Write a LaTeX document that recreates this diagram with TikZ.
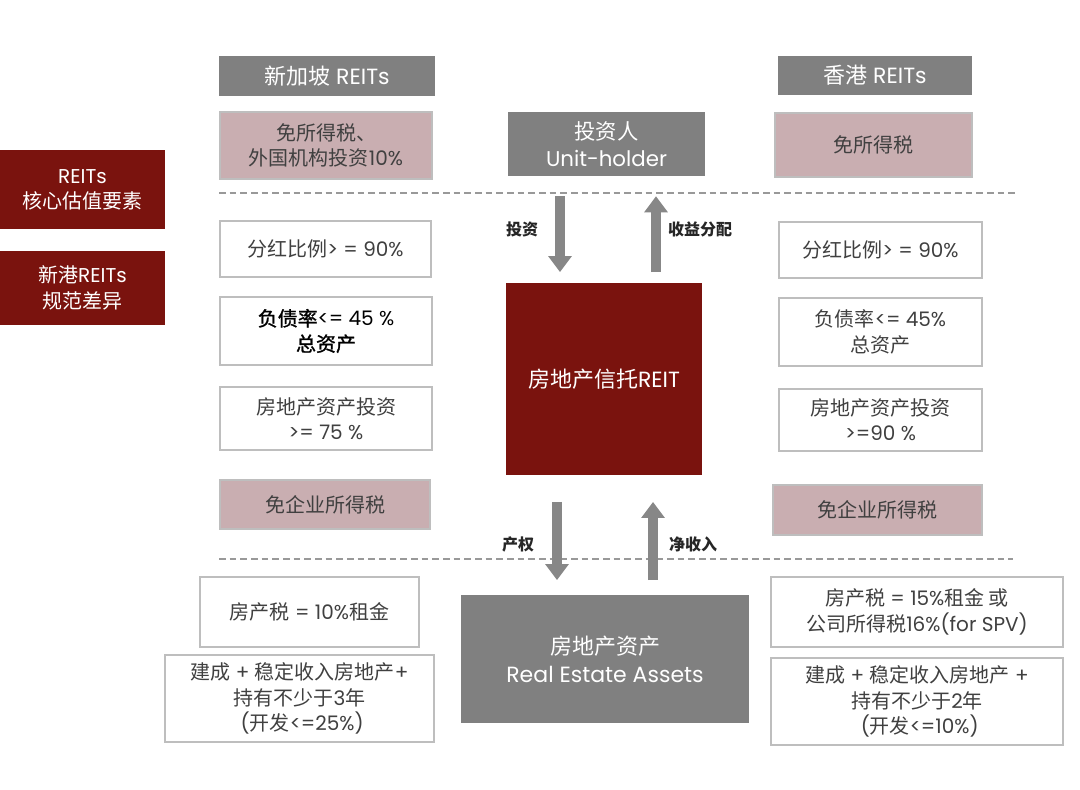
\documentclass[tikz,border=0pt]{standalone}
\usepackage{fontspec}
\setmainfont{Poppins}
\newfontfamily\cjk{Noto Sans CJK SC}
\newfontfamily\cjkmed[FakeBold=1.2]{Noto Sans CJK SC}
\usetikzlibrary{arrows.meta}
\definecolor{boxgray}{RGB}{128,128,128}
\definecolor{arrgray}{RGB}{135,135,135}
\definecolor{pinkfill}{RGB}{201,174,177}
\definecolor{darkred}{RGB}{122,19,14}
\definecolor{edgegray}{RGB}{190,190,190}
\definecolor{txtgray}{RGB}{64,64,64}
\newcommand\zh[1]{{\cjk #1}}
\newcommand\zhm[1]{{\cjkmed #1}}
\tikzset{
  sz/.style 2 args={minimum width=#1*0.75pt, minimum height=#2*0.75pt, inner sep=0pt},
  base/.style={align=center, font=\fontsize{15}{19}\selectfont},
  graybox/.style={base, fill=boxgray, text=white},
  pinkbox/.style={base, fill=pinkfill, draw=edgegray, line width=0.8pt, text=txtgray},
  whitebox/.style={base, fill=white, draw=edgegray, line width=0.8pt, text=txtgray},
  redbox/.style={base, fill=darkred, text=white},
  divider/.style={draw=gray!80, line width=1pt, dash pattern=on 5pt off 3pt},
  flow/.style={draw=arrgray, line width=7.5pt, -{Triangle[width=17pt,length=12pt]}},
  flowlabel/.style={font=\fontsize{12}{14}\selectfont\cjk\bfseries, text=black!85},
}
\begin{document}
\begin{tikzpicture}[x=0.75pt,y=-0.75pt]
\useasboundingbox[fill=white] (0,0) rectangle (1080,789);

% headers
\node[graybox, sz={216}{40}, font=\fontsize{16.5}{20}\selectfont] (sg) at (327,76) {\zh{新加坡} REITs};
\node[graybox, sz={194}{39}, font=\fontsize{16.5}{20}\selectfont] (hk) at (875,75.5) {\zh{香港} REITs};

% top row
\node[pinkbox, sz={212}{67}] (sgtax) at (326,145.5) {\zh{免所得税、}\\\zh{外国机构投资}10\%};
\node[graybox, sz={197}{64}, font=\fontsize{16}{20}\selectfont] (inv) at (606.5,144) {\zh{投资人}\\Unit-holder};
\node[pinkbox, sz={197}{64}] (hktax) at (873.5,145) {\zh{免所得税}};

% left red labels
\node[redbox, sz={165}{79}] (core) at (82.5,189.5) {REITs\\\zh{核心估值要素}};
\node[redbox, sz={165}{74}] (diff) at (82.5,288) {\zh{新港}REITs\\\zh{规范差异}};

% dashed dividers
\coordinate (d1l) at (219,193);
\coordinate (d1r) at (1015,193);
\draw[divider] (d1l) -- (d1r);
\coordinate (d2l) at (219,559);
\coordinate (d2r) at (1013,559);
\draw[divider] (d2l) -- (d2r);

% Singapore rules
\node[whitebox, sz={211}{56}] (sgdiv) at (325.5,249) {\zh{分红比例}> = 90\%};
\node[whitebox, sz={212}{68}, text=black] (sgdebt) at (326,331) {\zhm{负债率}<= 45 \%\\\zhm{总资产}};
\node[whitebox, sz={212}{63}] (sginv) at (326,418.5) {\zh{房地产资产投资}\\>= 75 \%};
\node[pinkbox, sz={210}{49}] (sgcorp) at (325,504.5) {\zh{免企业所得税}};

% Hong Kong rules
\node[whitebox, sz={203}{56}] (hkdiv) at (880.5,250) {\zh{分红比例}> = 90\%};
\node[whitebox, sz={203}{68}] (hkdebt) at (880.5,332) {\zh{负债率}<= 45\%\\\zh{总资产}};
\node[whitebox, sz={203}{62}] (hkinv) at (880.5,420) {\zh{房地产资产投资}\\>=90 \%};
\node[pinkbox, sz={209}{50}] (hkcorp) at (877.5,510) {\zh{免企业所得税}};

% centre
\node[redbox, sz={196}{192}, font=\fontsize{16.5}{20}\selectfont] (reit) at (604,379) {\zh{房地产信托}REIT};
\node[graybox, sz={288}{128}, font=\fontsize{16.5}{21}\selectfont] (rea) at (605,659) {\zh{房地产资产}\\Real Estate Assets};

% bottom rules
\node[whitebox, sz={219}{70}] (sgprop) at (309.5,612) {\zh{房产税} = 10\%\zh{租金}};
\node[whitebox, sz={269}{87}] (sgbuild) at (299.5,698.5) {\zh{建成} + \zh{稳定收入房地产}+\\\zh{持有不少于}3\zh{年}\\\ (\zh{开发}<=25\%)};
\node[whitebox, sz={292}{70}] (hkprop) at (917,612) {\zh{房产税} = 15\%\zh{租金 或}\\\zh{公司所得税}16\%(for SPV)};
\node[whitebox, sz={292}{87}] (hkbuild) at (917,701.5) {\zh{建成} + \zh{稳定收入房地产} +\\\zh{持有不少于}2\zh{年}\\\ (\zh{开发}<=10\%)};

% flow arrows
\coordinate (xa) at (560,0);
\coordinate (xb) at (656,0);
\coordinate (xc) at (557,0);
\coordinate (xd) at (653,0);
\draw[flow, shorten <=15pt, shorten >=8pt] (inv.south -| xa) -- (reit.north -| xa);
\draw[flow, shorten <=8pt, shorten >=15pt] (reit.north -| xb) -- (inv.south -| xb);
\draw[flow, shorten <=20pt, shorten >=11pt] (reit.south -| xc) -- (rea.north -| xc);
\draw[flow, shorten <=11pt, shorten >=20pt] (rea.north -| xd) -- (reit.south -| xd);

\node[flowlabel] (l1) at (522,229) {投资};
\node[flowlabel] (l2) at (700,229) {收益分配};
\node[flowlabel] (l3) at (518,544) {产权};
\node[flowlabel] (l4) at (693,544) {净收入};
\end{tikzpicture}
\end{document}
